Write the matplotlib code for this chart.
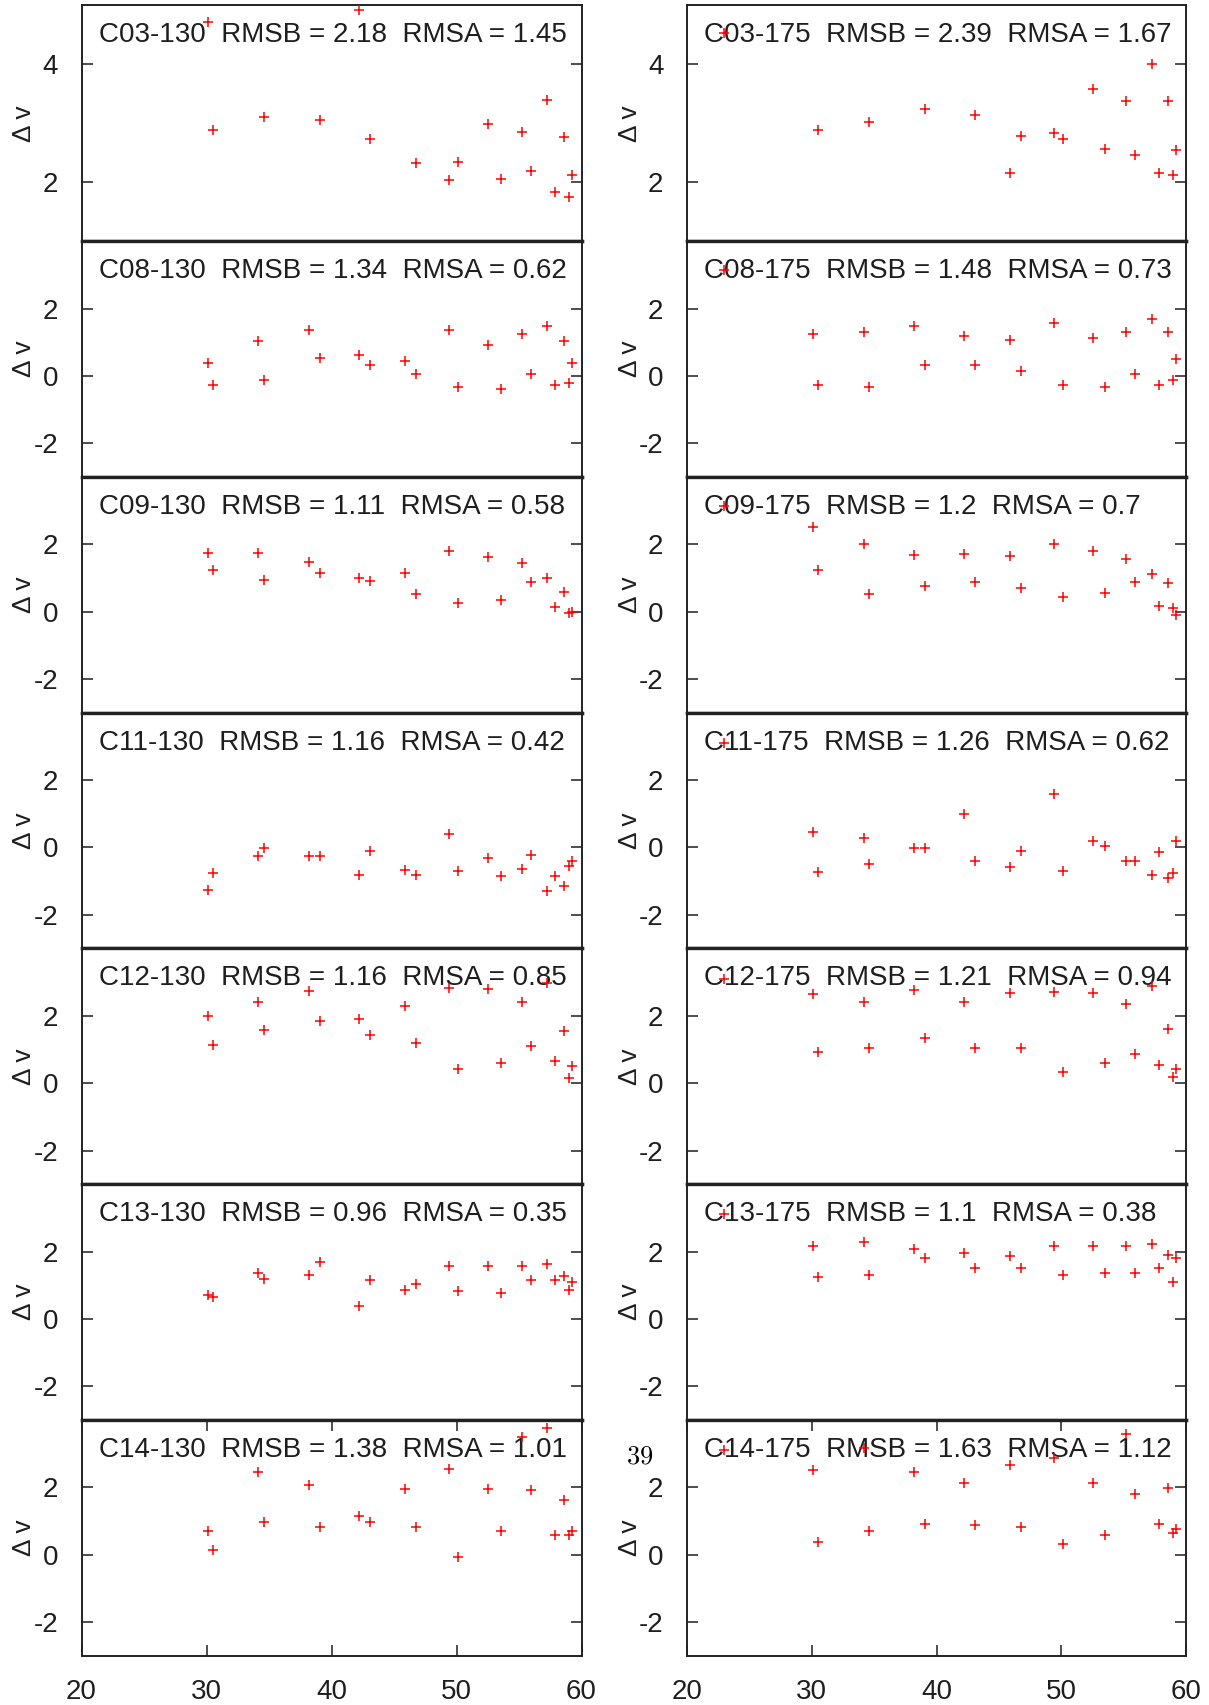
import numpy as np
import matplotlib
matplotlib.use("Agg")
import matplotlib.pyplot as plt

# common x positions of the measurements
x_vals = [22.95, 30.1, 30.5, 34.15, 34.62, 38.18, 39.07, 42.2, 43.05, 45.86, 46.75,
          49.41, 50.15, 52.53, 53.54, 55.2, 55.93, 57.25, 57.86, 58.59, 58.99, 59.23]
nan = np.nan

# left column (130) and right column (175) panel names and stats
names_130 = ["C03-130", "C08-130", "C09-130", "C11-130", "C12-130", "C13-130", "C14-130"]
names_175 = ["C03-175", "C08-175", "C09-175", "C11-175", "C12-175", "C13-175", "C14-175"]
rmsb_130 = ["2.18", "1.34", "1.11", "1.16", "1.16", "0.96", "1.38"]
rmsa_130 = ["1.45", "0.62", "0.58", "0.42", "0.85", "0.35", "1.01"]
rmsb_175 = ["2.39", "1.48", "1.2", "1.26", "1.21", "1.1", "1.63"]
rmsa_175 = ["1.67", "0.73", "0.7", "0.62", "0.94", "0.38", "1.12"]

c03_130 = [nan, 4.71, 2.89, nan, 3.11, nan, 3.05, 4.93, 2.73, nan, 2.32,
           2.03, 2.34, 2.99, 2.06, 2.85, 2.19, 3.40, 1.84, 2.76, 1.75, 2.13]
c08_130 = [nan, 0.37, -0.28, 1.03, -0.12, 1.36, 0.54, 0.61, 0.32, 0.43, 0.05,
           1.36, -0.33, 0.93, -0.39, 1.25, 0.05, 1.47, -0.28, 1.03, -0.22, 0.37]
c09_130 = [nan, 1.74, 1.23, 1.74, 0.94, 1.48, 1.16, 1.0, 0.90, 1.16, 0.52,
           1.81, 0.26, 1.61, 0.35, 1.45, 0.87, 1.0, 0.13, 0.58, -0.03, 0.0]
c11_130 = [nan, -1.26, -0.77, -0.26, -0.03, -0.26, -0.26, -0.81, -0.10, -0.68, -0.81,
           0.39, -0.71, -0.32, -0.84, -0.65, -0.23, -1.29, -0.84, -1.13, -0.55, -0.39]
c12_130 = [nan, 2.0, 1.13, 2.42, 1.58, 2.74, 1.84, 1.90, 1.42, 2.29, 1.19,
           2.84, 0.42, 2.81, 0.61, 2.42, 1.10, 2.97, 0.65, 1.55, 0.16, 0.52]
c13_130 = [nan, 0.72, 0.66, 1.37, 1.20, 1.31, 1.70, 0.39, 1.15, 0.87, 1.03,
           1.58, 0.82, 1.58, 0.76, 1.58, 1.15, 1.64, 1.15, 1.27, 0.87, 1.10]
c14_130 = [nan, 0.70, 0.15, 2.45, 0.98, 2.06, 0.82, 1.15, 0.98, 1.96, 0.82,
           2.56, -0.07, 1.96, 0.70, 3.49, 1.91, 3.76, 0.59, 1.63, 0.59, 0.70]

c03_175 = [4.53, nan, 2.89, nan, 3.02, nan, 3.24, nan, 3.14, 2.16, 2.79,
           2.83, 2.74, 3.59, 2.57, 3.37, 2.47, 4.01, 2.16, 3.37, 2.13, 2.54]
c08_175 = [3.13, 1.25, -0.28, 1.30, -0.33, 1.47, 0.33, 1.19, 0.33, 1.08, 0.16,
           1.58, -0.28, 1.13, -0.33, 1.30, 0.05, 1.69, -0.28, 1.30, -0.12, 0.49]
c09_175 = [3.13, 2.52, 1.23, 2.0, 0.52, 1.68, 0.77, 1.71, 0.87, 1.65, 0.71,
           2.0, 0.45, 1.81, 0.55, 1.55, 0.87, 1.13, 0.16, 0.84, 0.10, -0.10]
c11_175 = [3.10, 0.45, -0.74, 0.29, -0.48, -0.03, -0.03, 1.0, -0.39, -0.58, -0.10,
           1.58, -0.71, 0.19, 0.03, -0.39, -0.39, -0.81, -0.13, -0.90, -0.77, 0.19]
c12_175 = [3.10, 2.65, 0.94, 2.42, 1.06, 2.77, 1.35, 2.42, 1.06, 2.68, 1.06,
           2.71, 0.32, 2.68, 0.61, 2.35, 0.87, 2.90, 0.55, 1.61, 0.19, 0.42]
c13_175 = [3.12, 2.18, 1.26, 2.29, 1.30, 2.08, 1.80, 1.97, 1.52, 1.86, 1.52,
           2.18, 1.31, 2.18, 1.36, 2.18, 1.36, 2.24, 1.52, 1.91, 1.09, 1.80]
c14_175 = [3.12, 2.51, 0.38, 3.16, 0.70, 2.45, 0.92, 2.12, 0.87, 2.67, 0.82,
           2.88, 0.32, 2.12, 0.59, 3.60, 1.79, nan, 0.92, 1.98, 0.64, 0.77]

ys_130 = [c03_130, c08_130, c09_130, c11_130, c12_130, c13_130, c14_130]
ys_175 = [c03_175, c08_175, c09_175, c11_175, c12_175, c13_175, c14_175]

plt.rcParams['font.family'] = ['Liberation Sans', 'DejaVu Sans']
plt.rcParams['axes.unicode_minus'] = False
txt_col = '#1e1e1e'

fig = plt.figure(figsize=(12.09, 17.05), dpi=100)

h = 1650.4 / 7 / 1705
bottom0 = 1 - 1655.8 / 1705
cols = [(81.5 / 1209, 500 / 1209, names_130, rmsb_130, rmsa_130, ys_130),
        (687 / 1209, 499 / 1209, names_175, rmsb_175, rmsa_175, ys_175)]

for left, width, names, rmsb, rmsa, ys in cols:
    for i in range(7):
        bot = bottom0 + (6 - i) * h
        ax = fig.add_axes([left, bot, width, h])
        ax.plot(x_vals, ys[i], linestyle='none', marker='+', color='red',
                markersize=7, markeredgewidth=1.1, zorder=3)
        ax.set_xlim(20, 60)
        if i == 0:
            ax.set_ylim(1, 5)
            ax.set_yticks([2, 4])
        else:
            ax.set_ylim(-3, 4)
            ax.set_yticks([-2, 0, 2])
        ax.tick_params(axis='y', direction='in', left=True, right=True, length=8,
                       width=1.1, labelsize=20, pad=17, colors=txt_col)
        if i == 6:
            ax.set_xticks([20, 30, 40, 50, 60])
            ax.tick_params(axis='x', direction='in', top=True, bottom=True, length=8,
                           width=1.1, labelsize=20, pad=17, colors=txt_col)
        else:
            ax.set_xticks([])
        for s in ax.spines.values():
            s.set_linewidth(1.4)
            s.set_color('#222222')
        if i > 0:
            ax.spines['top'].set_linewidth(2.4)
        if i < 6:
            ax.spines['bottom'].set_linewidth(2.4)
        label = names[i] + "  RMSB = " + rmsb[i] + "  RMSA = " + rmsa[i]
        ax.text(0.035, 1 - 37 / 236, label, transform=ax.transAxes, ha='left',
                va='baseline', fontsize=20, color=txt_col, zorder=1)
        ax.text(-0.115, 0.5, "Δ v", transform=ax.transAxes, rotation=90,
                ha='center', va='center', fontsize=19, color=txt_col)

# page number
fig.text(640 / 1209, 1 - 1457 / 1705, "$39$", math_fontfamily='cm', fontsize=19,
         ha='center', va='center', color='black')

fig.savefig("out.png", dpi=100)
